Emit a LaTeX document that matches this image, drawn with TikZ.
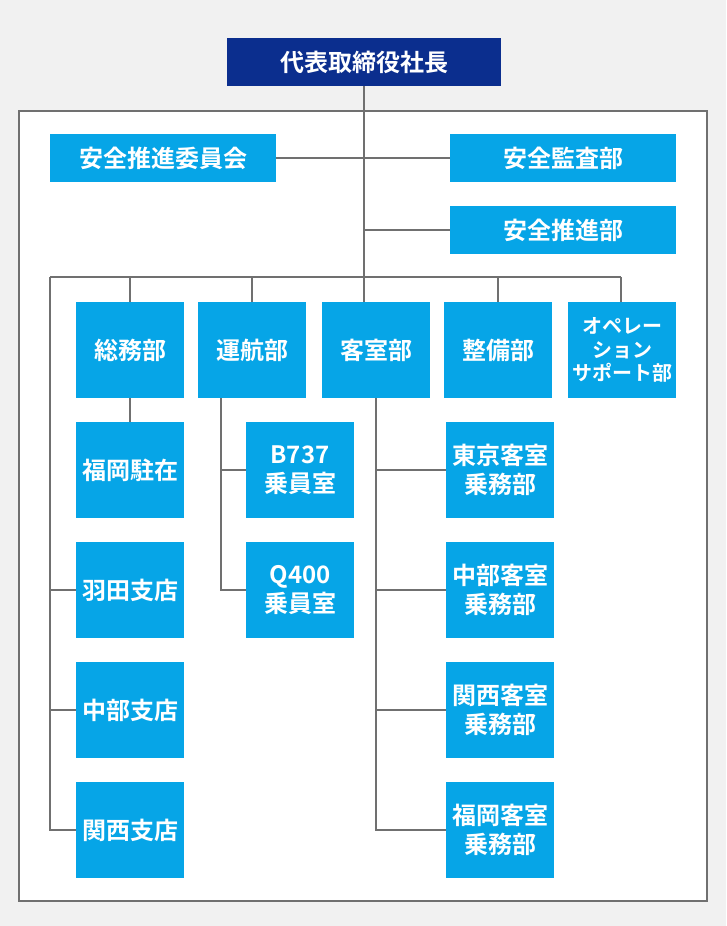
\documentclass[tikz,border=0pt]{standalone}
\usepackage{fontspec}
\setmainfont{Noto Sans CJK JP}[BoldFont={Noto Sans CJK JP Bold}]
\usetikzlibrary{calc}

\definecolor{navy}{RGB}{11,46,142}
\definecolor{sky}{RGB}{6,165,231}
\definecolor{linegray}{RGB}{112,112,112}
\definecolor{backgray}{RGB}{241,241,241}

\tikzset{
    unitbox/.style={fill=sky, text=white, inner sep=0pt, align=center,
        font=\bfseries\fontsize{24}{29}\selectfont},
    widebox/.style={unitbox, minimum width=226pt, minimum height=48pt},
    deptbox/.style={unitbox, minimum width=108pt, minimum height=96pt},
    orgline/.style={draw=linegray, line width=2pt},
}

\begin{document}
\begin{tikzpicture}[x=1pt,y=-1pt]
        % Background and frame.
        \fill[backgray] (0,0) rectangle (726,926);
        \useasboundingbox (0,0) rectangle (726,926);
        \draw[fill=white, draw=linegray, line width=2pt] (19,111) rectangle (707,901);
        % Top.
        \node[unitbox, fill=navy, minimum width=274pt, minimum height=48pt] (ceo) at (364,62) {代表取締役社長};
        \node[widebox] (iinkai) at (163,158) {安全推進委員会};
        \node[widebox] (kansa) at (563,158) {安全監査部};
        \node[widebox] (suishin) at (563,230) {安全推進部};
        % Departments.
        \node[deptbox] (soumu) at (130,350) {総務部};
        \node[deptbox] (unkou) at (252,350) {運航部};
        \node[deptbox] (kyaku) at (376,350) {客室部};
        \node[deptbox] (seibi) at (498,350) {整備部};
        \node[deptbox, font=\bfseries\fontsize{20}{23.5}\selectfont] (ops) at (622,350) {オペレー\\ション\\サポート部};
        % Branches.
        \node[deptbox] (fukuoka) at (130,470) {福岡駐在};
        \node[deptbox] (haneda) at (130,590) {羽田支店};
        \node[deptbox] (chubu) at (130,710) {中部支店};
        \node[deptbox] (kansai) at (130,830) {関西支店};
        % Crews.
        \node[deptbox] (b737) at (300,470) {B737\\乗員室};
        \node[deptbox] (q400) at (300,590) {Q400\\乗員室};
        \node[deptbox] (tokyoK) at (500,470) {東京客室\\乗務部};
        \node[deptbox] (chubuK) at (500,590) {中部客室\\乗務部};
        \node[deptbox] (kansaiK) at (500,710) {関西客室\\乗務部};
        \node[deptbox] (fukuokaK) at (500,830) {福岡客室\\乗務部};
        % Draw lines.
        \coordinate (busL) at (50,277);
        \coordinate (busC) at (364,277);
        \coordinate (busR) at (621,277);
        \coordinate (unkouX) at (221,398);
        \draw[orgline] (ceo.south) -- (busC);
        \draw[orgline] (iinkai.east) -- (kansa.west);
        \draw[orgline] (suishin.west) -- (suishin.west -| busC);
        \draw[orgline] (busL) -- (busR);
        \draw[orgline] (soumu.north) -- (soumu.north |- busC);
        \draw[orgline] (unkou.north) -- (unkou.north |- busC);
        \draw[orgline] (busC) -- (busC |- kyaku.north);
        \draw[orgline] (seibi.north) -- (seibi.north |- busC);
        \draw[orgline] (busR) -- (busR |- ops.north);
        \draw[orgline] (soumu.south) -- (fukuoka.north);
        \draw[orgline] (busL) |- (kansai.west);
        \draw[orgline] (haneda.west -| busL) -- (haneda.west);
        \draw[orgline] (chubu.west -| busL) -- (chubu.west);
        \draw[orgline] (unkouX) |- (q400.west);
        \draw[orgline] (b737.west -| unkouX) -- (b737.west);
        \draw[orgline] (kyaku.south) |- (fukuokaK.west);
        \draw[orgline] (tokyoK.west -| kyaku.south) -- (tokyoK.west);
        \draw[orgline] (chubuK.west -| kyaku.south) -- (chubuK.west);
        \draw[orgline] (kansaiK.west -| kyaku.south) -- (kansaiK.west);
    \end{tikzpicture}
\end{document}
